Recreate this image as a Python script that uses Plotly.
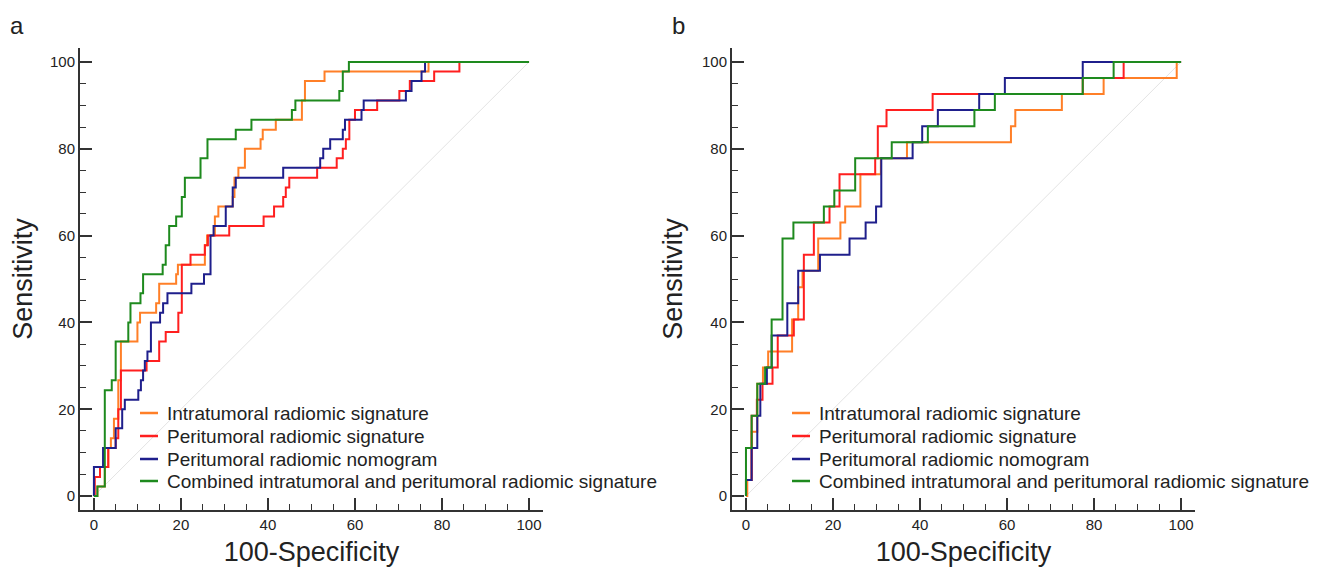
import plotly.graph_objects as go

# ---------------- data (100-Specificity, Sensitivity breakpoints) ----------------
series_names = [
    "Intratumoral radiomic signature",
    "Peritumoral radiomic signature",
    "Peritumoral radiomic nomogram",
    "Combined intratumoral and peritumoral radiomic signature",
]
series_colors = ["#FF7F27", "#FF1F1F", "#1F1F8C", "#1E8A1E"]

# Panel a
a_orange_x = [0, 0.8, 2.5, 3.3, 3.9, 4.6, 5.6, 6.2, 10.0, 10.6, 14.3, 15.0, 18.9, 19.3, 25.5, 26.0, 27.8, 28.6,
              31.9, 32.3, 33.2, 34.7, 38.3, 38.8, 41.8, 47.8, 48.5, 53.0, 76.9, 100]
a_orange_y = [0, 2.2, 6.7, 11.1, 13.3, 17.8, 26.7, 35.6, 40.0, 42.2, 44.4, 48.9, 51.1, 53.3, 57.8, 60.0, 64.4, 66.7,
              68.9, 73.3, 75.6, 80.0, 82.2, 84.4, 86.7, 91.1, 95.6, 97.8, 100, 100]

a_red_x = [0, 0.2, 1.4, 3.3, 5.0, 5.6, 6.2, 12.1, 15.0, 16.5, 19.4, 20.2, 22.2, 25.5, 26.2, 31.1, 39.0, 41.4,
           43.5, 44.1, 44.9, 51.3, 55.8, 57.2, 57.9, 58.7, 60.0, 65.1, 70.2, 72.6, 78.2, 84.0, 100]
a_red_y = [0, 4.4, 6.7, 11.1, 13.3, 20.0, 28.9, 31.1, 35.6, 37.8, 42.2, 53.3, 55.6, 57.8, 60.0, 62.2, 64.4, 66.7,
           68.9, 71.1, 73.3, 75.6, 77.8, 80.0, 82.2, 86.7, 88.9, 91.1, 93.3, 95.6, 97.8, 100, 100]

a_blue_x = [0, 0, 2.1, 5.0, 6.5, 7.1, 10.2, 10.8, 11.3, 11.7, 12.3, 13.1, 15.2, 15.9, 16.9, 22.4, 25.3, 26.8,
            27.5, 30.3, 31.9, 32.6, 43.5, 52.0, 52.7, 54.3, 57.2, 57.7, 61.5, 62.0, 71.7, 73.0, 75.3, 76.1, 100]
a_blue_y = [0, 6.7, 11.1, 15.6, 20.0, 22.2, 24.4, 26.7, 28.9, 31.1, 33.3, 40.0, 42.2, 44.4, 46.7, 48.9, 51.1, 60.0,
            62.2, 66.7, 71.1, 73.3, 75.6, 77.8, 80.0, 82.2, 84.4, 86.7, 88.9, 91.1, 93.3, 95.6, 97.8, 100, 100]

a_green_x = [0, 0.8, 2.5, 4.1, 5.0, 7.9, 8.4, 10.7, 11.3, 15.8, 16.5, 17.3, 18.9, 20.2, 20.9, 24.5, 26.1, 32.6,
             36.2, 45.5, 46.3, 56.4, 57.2, 58.6, 100]
a_green_y = [0, 2.2, 24.4, 26.7, 35.6, 40.0, 44.4, 46.7, 51.1, 53.3, 57.8, 62.2, 64.4, 68.9, 73.3, 77.8, 82.2, 84.4,
             86.7, 88.9, 91.1, 93.3, 97.8, 100, 100]

# Panel b
b_orange_x = [0, 0.3, 1.3, 2.6, 3.9, 5.1, 10.6, 12.0, 13.0, 16.6, 21.7, 22.8, 26.3, 31.0, 37.0, 60.9, 61.9,
              72.6, 82.2, 99.0, 100]
b_orange_y = [0, 3.7, 14.8, 25.9, 29.6, 33.3, 40.7, 48.1, 51.9, 59.3, 63.0, 66.7, 74.1, 77.8, 81.5, 85.2, 88.9,
              92.6, 96.3, 100, 100]

b_red_x = [0, 0, 1.3, 2.5, 3.8, 6.1, 7.3, 11.0, 13.3, 15.6, 19.2, 21.5, 29.7, 30.3, 32.3, 42.9, 77.4, 86.8, 100]
b_red_y = [0, 3.7, 18.5, 22.2, 25.9, 29.6, 37.0, 40.7, 55.6, 63.0, 66.7, 74.1, 77.8, 85.2, 88.9, 92.6, 96.3, 100, 100]

b_blue_x = [0, 0, 1.3, 2.6, 3.3, 4.8, 5.9, 9.5, 12.0, 17.0, 23.8, 27.5, 29.9, 31.1, 38.3, 40.5, 44.1, 53.6,
            59.5, 77.4, 100]
b_blue_y = [0, 3.7, 11.1, 18.5, 25.9, 29.6, 37.0, 44.4, 51.9, 55.6, 59.3, 63.0, 66.7, 77.8, 81.5, 85.2, 88.9, 92.6,
            96.3, 100, 100]

b_green_x = [0, 0, 1.3, 2.6, 4.4, 5.9, 8.4, 10.9, 17.9, 20.3, 25.1, 33.5, 41.8, 52.5, 57.2, 77.4, 84.5, 100]
b_green_y = [0, 11.1, 18.5, 25.9, 29.6, 40.7, 59.3, 63.0, 66.7, 70.4, 77.8, 81.5, 85.2, 88.9, 92.6, 96.3, 100, 100]

diag = [0, 100]
tick_vals = [0, 20, 40, 60, 80, 100]
panel_labels = ["a", "b"]
x_title = "100-Specificity"
y_title = "Sensitivity"

panels = [
    [(a_orange_x, a_orange_y), (a_red_x, a_red_y), (a_blue_x, a_blue_y), (a_green_x, a_green_y)],
    [(b_orange_x, b_orange_y), (b_red_x, b_red_y), (b_blue_x, b_blue_y), (b_green_x, b_green_y)],
]

FONT = "Arial, Liberation Sans, sans-serif"
TXT = "#222222"
fig = go.Figure()

for p, curves in enumerate(panels):
    xa = "x" if p == 0 else "x2"
    ya = "y" if p == 0 else "y2"
    fig.add_trace(go.Scatter(x=diag, y=diag, mode="lines", xaxis=xa, yaxis=ya,
                             line=dict(color="#e3e3e3", width=1), showlegend=False, hoverinfo="skip"))
    for (xs, ys), name, col in zip(curves, series_names, series_colors):
        fig.add_trace(go.Scatter(x=xs, y=ys, mode="lines", name=name, xaxis=xa, yaxis=ya,
                                 line=dict(color=col, width=2, shape="hv"), showlegend=False))

axis_common = dict(
    range=[-3.2, 103.2], showgrid=False, zeroline=False, automargin=False,
    showline=True, linecolor="#333333", linewidth=2,
    ticks="inside", ticklen=12, tickwidth=1.5, tickcolor="#333333",
    tickvals=tick_vals, tickfont=dict(family=FONT, size=15, color=TXT),
    minor=dict(ticks="inside", ticklen=6, tickwidth=1.2, tickcolor="#333333", dtick=5, showgrid=False),
)
title_font = dict(family=FONT, size=27, color=TXT)

# page body has an 8px margin: figure is sized to fit the window
W, H = 1313, 563
fig.update_layout(
    width=W, height=H,
    margin=dict(l=72, r=126, t=40, b=61),
    paper_bgcolor="white", plot_bgcolor="white",
    font=dict(family=FONT, color=TXT),
    showlegend=False,
    xaxis=dict(domain=[0, 0.4152], anchor="y", **axis_common,
               title=dict(text=x_title, font=title_font, standoff=10)),
    yaxis=dict(domain=[0, 1], anchor="x", **axis_common,
               title=dict(text=y_title, font=title_font, standoff=12)),
    xaxis2=dict(domain=[0.5848, 1.0], anchor="y2", **axis_common,
                title=dict(text=x_title, font=title_font, standoff=10)),
    yaxis2=dict(domain=[0, 1], anchor="x2", **axis_common,
                title=dict(text=y_title, font=title_font, standoff=12)),
)

# legend entries (line sample + label) inside each panel, lower right
PW, PH = 1115.0, 462.0
def px2paper_x(px):
    return (px - 80) / PW
def px2paper_y(py):
    return 1 - (py - 48) / PH

legend_rows = [413, 436, 459, 481]
legend_line_x = [(140, 158), (792, 810)]
legend_text_x = [165, 817]
for p in range(2):
    for name, col, ry in zip(series_names, series_colors, legend_rows):
        fig.add_shape(type="line", xref="paper", yref="paper",
                      x0=px2paper_x(legend_line_x[p][0]), x1=px2paper_x(legend_line_x[p][1]),
                      y0=px2paper_y(ry), y1=px2paper_y(ry), line=dict(color=col, width=2.5))
        fig.add_annotation(text=name, xref="paper", yref="paper",
                           x=px2paper_x(legend_text_x[p]), y=px2paper_y(ry),
                           xanchor="left", yanchor="middle", showarrow=False,
                           font=dict(family=FONT, size=19, color=TXT))

for lab, lx in zip(panel_labels, [17, 678]):
    fig.add_annotation(text=lab, xref="paper", yref="paper", x=px2paper_x(lx), y=px2paper_y(25),
                       xanchor="center", yanchor="middle", showarrow=False, borderpad=0,
                       font=dict(family=FONT, size=24, color=TXT))

fig.write_html("out.html")
